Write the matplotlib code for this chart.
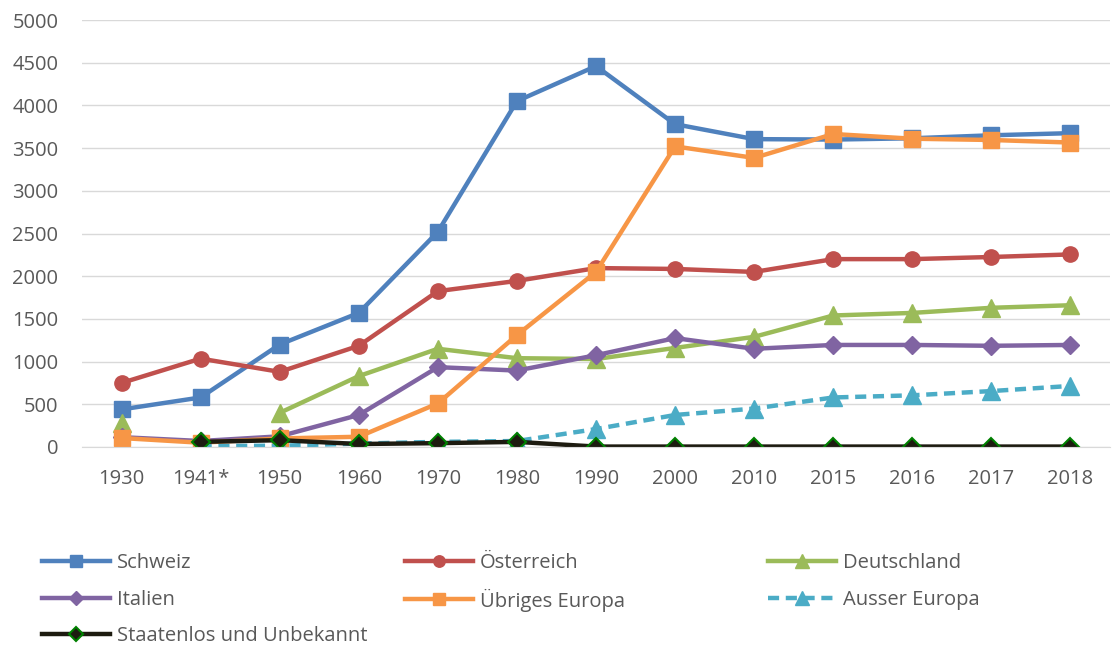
import matplotlib
matplotlib.use("Agg")
import matplotlib.pyplot as plt
import numpy as np

plt.rcParams['font.family'] = ['Open Sans', 'DejaVu Sans']

years = ["1930", "1941*", "1950", "1960", "1970", "1980", "1990", "2000",
         "2010", "2015", "2016", "2017", "2018"]
nan = np.nan
schweiz = [440, 580, 1200, 1570, 2520, 4050, 4460, 3780, 3605, 3600, 3615, 3650, 3675]
oesterreich = [750, 1035, 880, 1185, 1825, 1945, 2095, 2085, 2050, 2200, 2200, 2225, 2255]
deutschland = [280, nan, 400, 830, 1150, 1040, 1030, 1160, 1290, 1540, 1570, 1630, 1660]
italien = [115, 70, 125, 375, 935, 895, 1075, 1275, 1150, 1195, 1195, 1185, 1195]
uebriges = [105, 50, 100, 120, 510, 1310, 2050, 3520, 3385, 3665, 3610, 3595, 3565]
ausser = [nan, 10, 15, 40, 60, 70, 210, 375, 450, 580, 605, 655, 715]
staatenlos = [nan, 60, 80, 35, 45, 60, 5, 5, 5, 5, 5, 5, 5]

W, H = 1114, 648
fig = plt.figure(figsize=(W / 100, H / 100), dpi=100)
ax = fig.add_axes([82 / W, 1 - 447 / H, (1110 - 82) / W, (447 - 20) / H])
x = np.arange(len(years))

lw = 3.2
h = {}
h['Schweiz'], = ax.plot(x, schweiz, color='#4F81BD', lw=lw, marker='s', ms=11, label='Schweiz')
h['Österreich'], = ax.plot(x, oesterreich, color='#C0504D', lw=lw, marker='o', ms=11, label='Österreich')
h['Deutschland'], = ax.plot(x, deutschland, color='#9BBB59', lw=lw, marker='^', ms=13, label='Deutschland')
h['Italien'], = ax.plot(x, italien, color='#8064A2', lw=lw, marker='D', ms=9, label='Italien')
h['Übriges Europa'], = ax.plot(x, uebriges, color='#F79646', lw=lw, marker='s', ms=11, label='Übriges Europa')
h['Ausser Europa'], = ax.plot(x, ausser, color='#4BACC6', lw=lw, marker='^', ms=13,
                              ls=(0, (2.5, 1.5)), label='Ausser Europa')
h['Staatenlos und Unbekannt'], = ax.plot(x, staatenlos, color='#1D1B10', lw=lw, marker='D', ms=9,
                                         mec='#008000', mew=1.5, label='Staatenlos und Unbekannt')

ax.set_xlim(-0.5, len(years) - 0.5)
ax.set_ylim(0, 5000)
ax.set_yticks(np.arange(0, 5001, 500))
ax.set_xticks(x)
ax.set_xticklabels(years)
ax.yaxis.grid(True, color='#D9D9D9', lw=1)
ax.set_axisbelow(True)
for s in ['top', 'right', 'left']:
    ax.spines[s].set_visible(False)
ax.spines['bottom'].set_color('#D9D9D9')
ax.tick_params(axis='both', length=0, labelsize=14.5, colors='#595959')
ax.tick_params(axis='x', pad=16)
ax.tick_params(axis='y', pad=17)

entries = [('Schweiz', 42, 563), ('Österreich', 405, 563), ('Deutschland', 768, 563),
           ('Italien', 42, 600), ('Übriges Europa', 405, 600), ('Ausser Europa', 768, 600),
           ('Staatenlos und Unbekannt', 42, 636)]
for name, cx, cy in entries:
    leg = fig.legend([h[name]], [name], loc='center left',
                     bbox_to_anchor=(cx / W, 1 - cy / H), frameon=False, fontsize=14.5,
                     handlelength=3.4, handletextpad=0.3,
                     borderpad=0, borderaxespad=0, markerscale=0.75)
    for t in leg.get_texts():
        t.set_color('#595959')

fig.savefig('out.png', dpi=100)
